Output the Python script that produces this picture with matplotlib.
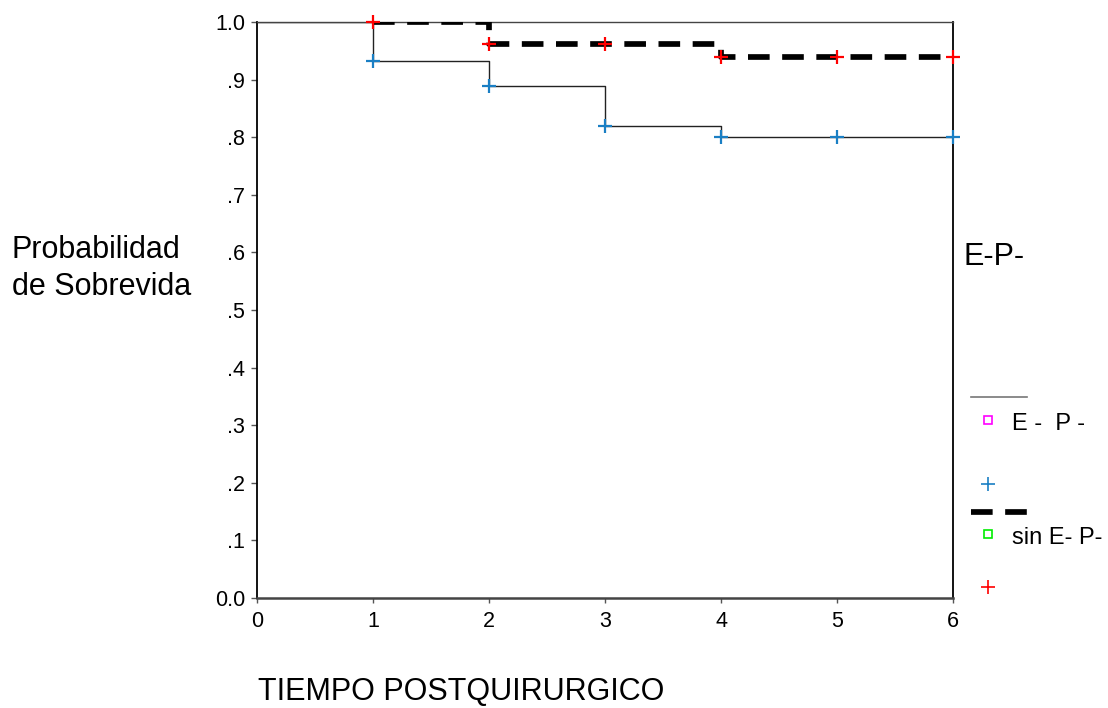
import matplotlib
matplotlib.use("Agg")
import matplotlib.pyplot as plt
from matplotlib.lines import Line2D

plt.rcParams["font.family"] = ["Liberation Sans", "DejaVu Sans"]

# survival curves (step after each time)
ep_times = [0, 1, 2, 3, 4, 6]
ep_surv = [1.0, 0.933, 0.889, 0.819, 0.801, 0.801]
sin_times = [1, 2, 4, 6]
sin_surv = [1.0, 0.962, 0.939, 0.939]

# censored marks
mark_times = [1, 2, 3, 4, 5, 6]
ep_marks = [0.933, 0.889, 0.819, 0.801, 0.801, 0.801]
sin_marks = [1.0, 0.962, 0.962, 0.939, 0.939, 0.939]

y_ticks = [0.0, 0.1, 0.2, 0.3, 0.4, 0.5, 0.6, 0.7, 0.8, 0.9, 1.0]
y_labels = ["0.0", ".1", ".2", ".3", ".4", ".5", ".6", ".7", ".8", ".9", "1.0"]
x_ticks = [0, 1, 2, 3, 4, 5, 6]

W, H = 1108, 708
fig = plt.figure(figsize=(W / 100, H / 100), dpi=100)
ax = fig.add_axes([257 / W, 1 - 598 / H, (953 - 257) / W, (598 - 22) / H])

ax.plot(ep_times, ep_surv, drawstyle="steps-post", color="#222222", lw=1.0, zorder=2)
ax.plot(sin_times, sin_surv, drawstyle="steps-post", color="black", lw=4.1,
        dashes=(3.8, 2.2), dash_capstyle="butt", zorder=3)
ax.plot(mark_times, ep_marks, ls="none", marker="+", ms=10, mew=1.6,
        color="#1a7fc4", zorder=4, clip_on=False)
ax.plot(mark_times, sin_marks, ls="none", marker="+", ms=10, mew=1.6,
        color="#ff0000", zorder=5, clip_on=False)

ax.set_xlim(0, 6)
ax.set_ylim(0, 1)
ax.set_xticks(x_ticks)
ax.set_yticks(y_ticks)
ax.set_yticklabels(y_labels)
ax.tick_params(axis="y", direction="out", length=4.5, width=1, color="#555555",
               labelsize=15.5, pad=4)
ax.tick_params(axis="x", direction="out", length=3.5, width=1, color="#555555",
               labelsize=15.5, pad=6)
ax.spines["top"].set_color("#444444")
ax.spines["top"].set_linewidth(1.0)
ax.spines["bottom"].set_color("#444444")
ax.spines["bottom"].set_linewidth(1.8)
ax.spines["left"].set_linewidth(1.3)
ax.spines["right"].set_linewidth(1.3)

# axis titles
fig.text(12 / W, 1 - 258 / H, "Probabilidad", fontsize=22, ha="left", va="baseline")
fig.text(12 / W, 1 - 295 / H, "de Sobrevida", fontsize=22, ha="left", va="baseline")
fig.text(258 / W, 1 - 700 / H, "TIEMPO POSTQUIRURGICO", fontsize=22, ha="left", va="baseline")

# legend drawn by hand
fig.text(963 / W, 1 - 265 / H, "E-P-", fontsize=22, ha="left", va="baseline")


def fx(px):
    return px / W


def fy(py):
    return 1 - py / H


fig.add_artist(Line2D([fx(971), fx(1027)], [fy(397), fy(397)], color="#777777", lw=1.2))
fig.add_artist(Line2D([fx(988)], [fy(420)], ls="none", marker="s", ms=6, mew=1.2,
                      mfc="none", mec="#ff00ff"))
fig.text(fx(1012), fy(430), "E -  P -", fontsize=17, ha="left", va="baseline")
fig.add_artist(Line2D([fx(988)], [fy(484)], ls="none", marker="+", ms=10, mew=1.2,
                      color="#1a7fc4"))
fig.add_artist(Line2D([fx(971), fx(1027)], [fy(512), fy(512)], color="black", lw=4.1,
                      dashes=(3.8, 2.2), dash_capstyle="butt"))
fig.add_artist(Line2D([fx(988)], [fy(534)], ls="none", marker="s", ms=6, mew=1.2,
                      mfc="none", mec="#00ee00"))
fig.text(fx(1012), fy(544), "sin E- P-", fontsize=17, ha="left", va="baseline")
fig.add_artist(Line2D([fx(988)], [fy(587)], ls="none", marker="+", ms=10, mew=1.2,
                      color="#ff0000"))

fig.savefig("out.png", dpi=100)
